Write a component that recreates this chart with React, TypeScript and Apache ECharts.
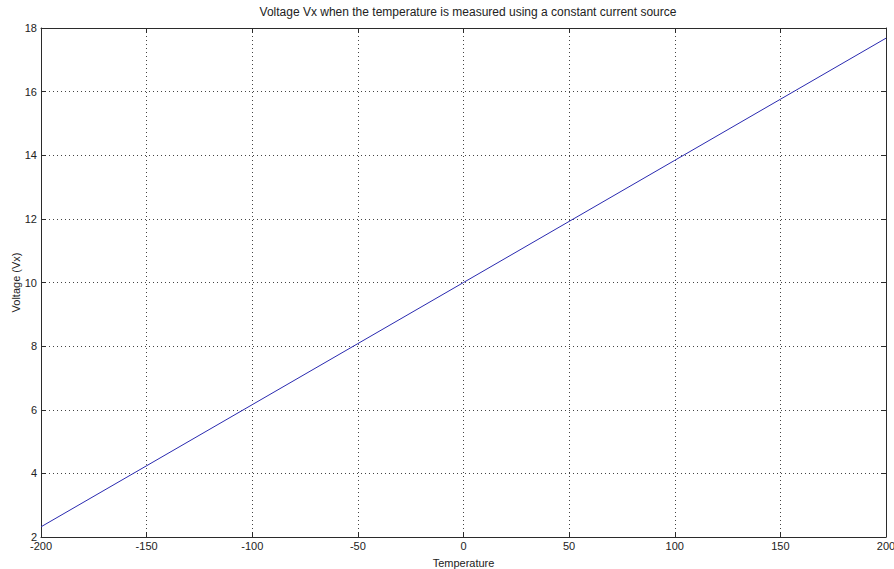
import React, { useEffect, useRef } from "react";
import * as echarts from "echarts";

const temperature = [-200, -150, -100, -50, 0, 50, 100, 150, 200];
const voltage = [2.32, 4.24, 6.16, 8.08, 10, 11.92, 13.84, 15.76, 17.68];

const titleText = "Voltage Vx when the temperature is measured using a constant current source";
const xName = "Temperature";
const yName = "Voltage (Vx)";

const FONT = "'Liberation Sans', Arial, sans-serif";
const AXIS = "#2b2b2b";

export default function App() {
  const ref = useRef<HTMLDivElement>(null);
  useEffect(() => {
    if (!ref.current) return;
    const chart = echarts.init(ref.current, null, { renderer: "svg" });
    const gridDot = { show: true, lineStyle: { color: "#444", width: 1, type: [1, 3] as any } };
    const tick = { show: true, inside: true, length: 5, lineStyle: { color: AXIS, width: 1 } };
    const line = { show: true, onZero: false, lineStyle: { color: AXIS, width: 1 } };
    const label = { color: "#222", fontFamily: FONT, fontSize: 11 };
    chart.setOption({
      animation: false,
      backgroundColor: "#fff",
      title: {
        text: titleText,
        left: 463,
        textAlign: "center",
        top: 1,
        textStyle: { fontFamily: FONT, fontSize: 12, fontWeight: "normal", color: "#222" },
      },
      grid: { left: 41, right: 8, top: 28, bottom: 32, containLabel: false, outerBoundsMode: "none" },
      xAxis: [
        {
          type: "value",
          min: -200,
          max: 200,
          interval: 50,
          position: "bottom",
          name: xName,
          nameLocation: "middle",
          nameGap: 20,
          nameMoveOverlap: false,
          nameTextStyle: { ...label },
          axisLine: line,
          axisTick: tick,
          axisLabel: { ...label, margin: 3 },
          splitLine: gridDot,
        },
        {
          type: "value",
          min: -200,
          max: 200,
          interval: 50,
          position: "top",
          axisLine: line,
          axisTick: tick,
          axisLabel: { show: false },
          splitLine: { show: false },
        },
      ],
      yAxis: [
        {
          type: "value",
          min: 2,
          max: 18,
          interval: 2,
          position: "left",
          name: yName,
          nameLocation: "middle",
          nameGap: 20,
          nameMoveOverlap: false,
          nameRotate: 90,
          nameTextStyle: { ...label },
          axisLine: line,
          axisTick: tick,
          axisLabel: { ...label, margin: 4 },
          splitLine: gridDot,
        },
        {
          type: "value",
          min: 2,
          max: 18,
          interval: 2,
          position: "right",
          axisLine: line,
          axisTick: tick,
          axisLabel: { show: false },
          splitLine: { show: false },
        },
      ],
      series: [
        {
          type: "line",
          data: temperature.map((t, i) => [t, voltage[i]]),
          showSymbol: false,
          symbol: "none",
          lineStyle: { color: "#2a2ab0", width: 1 },
          xAxisIndex: 0,
          yAxisIndex: 0,
        },
      ],
    });
    return () => chart.dispose();
  }, []);
  return <div ref={ref} style={{ width: 894, height: 569, position: "absolute", left: 0, top: 0 }} />;
}
